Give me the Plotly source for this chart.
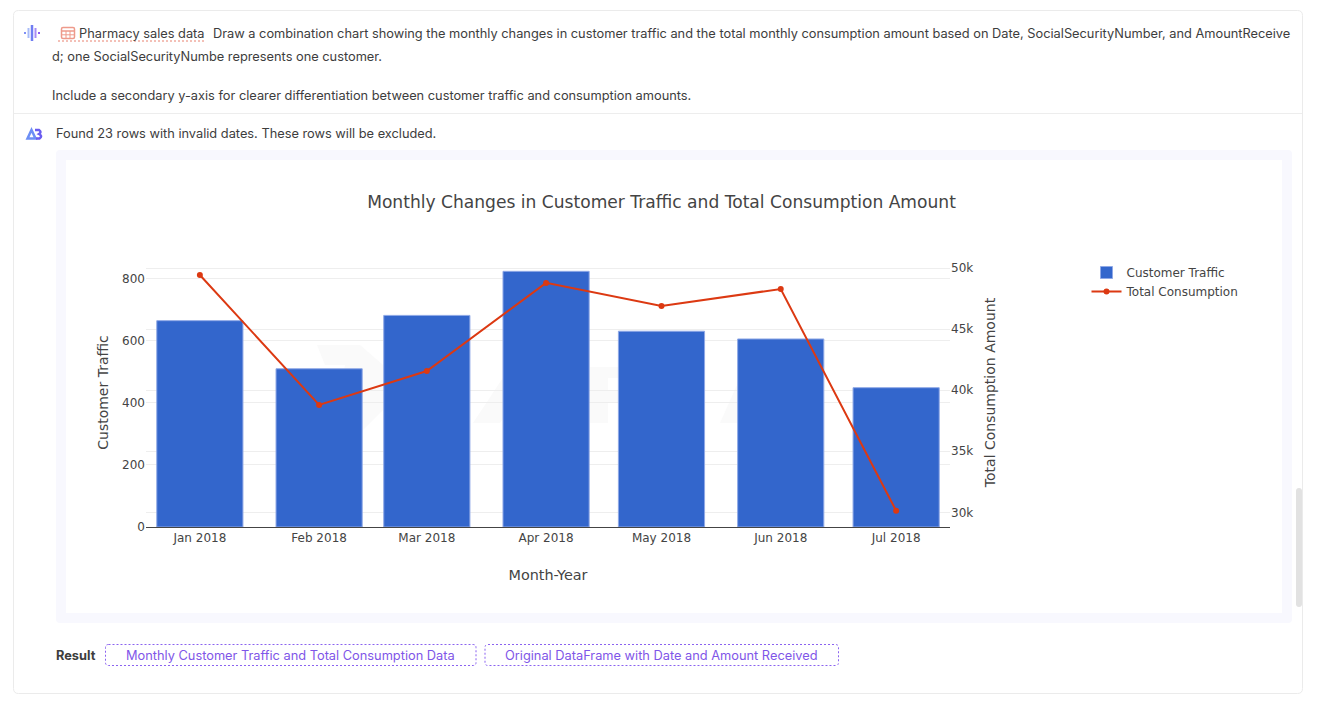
import plotly.graph_objects as go

W = 1320
H = 702

months = ["2018-01-01", "2018-02-01", "2018-03-01", "2018-04-01", "2018-05-01", "2018-06-01", "2018-07-01"]
month_labels = ["Jan 2018", "Feb 2018", "Mar 2018", "Apr 2018", "May 2018", "Jun 2018", "Jul 2018"]
customer_traffic = [665, 510, 682, 824, 631, 606, 449]
total_consumption = [49450, 38800, 41580, 48800, 46910, 48300, 30130]
left_ticks = [0, 200, 400, 600, 800]
right_ticks = [30000, 35000, 40000, 45000, 50000]


def px(x):
    return x / W


def py(y):
    return 1 - y / H


def path_shape(points, fill="rgba(0,0,0,0)", line="rgba(0,0,0,0)", width=1, close=True):
    d = "M " + " L ".join(f"{px(x)} {py(y)}" for x, y in points)
    if close:
        d += " Z"
    return dict(type="path", xref="paper", yref="paper", layer="below", path=d,
                fillcolor=fill, line=dict(color=line, width=width))


def box(x0, y0, x1, y1, fill="rgba(0,0,0,0)", line="rgba(0,0,0,0)", width=1, dash="solid", r=0):
    if r == 0:
        d = f"M {px(x0)} {py(y0)} L {px(x1)} {py(y0)} L {px(x1)} {py(y1)} L {px(x0)} {py(y1)} Z"
    else:
        d = (f"M {px(x0 + r)} {py(y0)} L {px(x1 - r)} {py(y0)} Q {px(x1)} {py(y0)} {px(x1)} {py(y0 + r)} "
             f"L {px(x1)} {py(y1 - r)} Q {px(x1)} {py(y1)} {px(x1 - r)} {py(y1)} "
             f"L {px(x0 + r)} {py(y1)} Q {px(x0)} {py(y1)} {px(x0)} {py(y1 - r)} "
             f"L {px(x0)} {py(y0 + r)} Q {px(x0)} {py(y0)} {px(x0 + r)} {py(y0)} Z")
    return dict(type="path", xref="paper", yref="paper", layer="below", path=d,
                fillcolor=fill, line=dict(color=line, width=width, dash=dash))


def seg(x0, y0, x1, y1, color, width=1, dash="solid"):
    return dict(type="line", xref="paper", yref="paper", layer="below",
                x0=px(x0), x1=px(x1), y0=py(y0), y1=py(y1),
                line=dict(color=color, width=width, dash=dash))


def label(text, x, y, size=12.8, color="#3d3d3d", anchor="left", family="Inter"):
    return dict(text=text, xref="paper", yref="paper", x=px(x), y=py(y), xanchor=anchor, yanchor="middle",
                showarrow=False, borderpad=0, borderwidth=0, font=dict(family=family, size=size, color=color))


fig = go.Figure()
fig.add_trace(go.Bar(x=months, y=customer_traffic, name="Customer Traffic",
                     marker=dict(color="#3366cc", line=dict(color="#8fa8e6", width=1))))
fig.add_trace(go.Scatter(x=months, y=total_consumption, name="Total Consumption", yaxis="y2",
                         mode="lines+markers", line=dict(color="#dc3912", width=2),
                         marker=dict(color="#dc3912", size=6)))

WM = "#fafafa"
# page furniture around the chart
shapes = [
    box(13.5, 10.5, 1302.5, 693.5, fill="#ffffff", line="#ebebeb", r=5),
    seg(14, 113.5, 1302, 113.5, "#ededed"),
    box(56, 150, 1292, 623, fill="#f8f8fe", r=4),
    box(66, 160, 1282, 613, fill="#ffffff"),
    box(1296, 488, 1302, 607, fill="#e2e2e2", r=3),
    # faint watermark behind the bars
    path_shape([(317, 345), (360, 345), (383, 365), (383, 410), (355, 438), (330, 438), (345, 365), (325, 365)], fill=WM),
    path_shape([(473, 423), (510, 367), (540, 367), (540, 423), (520, 423), (520, 395), (500, 423)], fill=WM),
    path_shape([(590, 367), (640, 367), (640, 378), (608, 378), (608, 390), (635, 390), (635, 402), (608, 402),
                (608, 423), (590, 423)], fill=WM),
    path_shape([(720, 423), (745, 367), (760, 367), (745, 423)], fill=WM),
    # table icon
    box(61.5, 27.5, 74.5, 38.5, line="#ee9a8b", width=1.5, r=1.5),
    seg(62, 31, 74, 31, "#ee9a8b", 1.5),
    seg(62, 34.8, 74, 34.8, "#ee9a8b", 1),
    seg(66, 31, 66, 38, "#ee9a8b", 1),
    seg(70, 31, 70, 38, "#ee9a8b", 1),
    seg(58, 41, 205, 41, "#e8806e", 1, "2px,2px"),
    # result buttons
    box(105.5, 644.5, 476, 665.5, line="#8b63f0", dash="2px,2px", r=3),
    box(485, 644.5, 838.5, 665.5, line="#8b63f0", dash="2px,2px", r=3),
    # waveform icon
    seg(25, 32, 25, 34, "#7f8ff4", 2),
    seg(28.5, 28, 28.5, 38, "#a9bcf8", 2),
    seg(32, 25, 32, 41, "#6f7df2", 2.5),
    seg(35.5, 28, 35.5, 38, "#a98cf5", 2),
    seg(39, 32, 39, 34, "#8a5cf0", 2),
    # AB logo
    path_shape([(27.5, 138.5), (31.5, 130), (35.5, 138.5)], line="#6c8ef5", width=2.5),
    dict(type="path", xref="paper", yref="paper", layer="below", fillcolor="rgba(0,0,0,0)",
         line=dict(color="#6a5cf0", width=2.5),
         path=(f"M {px(35)} {py(130)} L {px(39)} {py(130)} Q {px(42)} {py(132)} {px(39)} {py(134)} "
               f"Q {px(43)} {py(136)} {px(39.5)} {py(138.5)} L {px(36)} {py(138.5)}")),
]

annotations = [
    label("Pharmacy sales data", 79, 33.5),
    label("Draw a combination chart showing the monthly changes in customer traffic and the total monthly "
          "consumption amount based on Date, SocialSecurityNumber, and AmountReceive", 213, 33.5),
    label("d; one SocialSecurityNumbe represents one customer.", 52, 56.5),
    label("Include a secondary y-axis for clearer differentiation between customer traffic and consumption amounts.",
          52, 96),
    label("Found 23 rows with invalid dates. These rows will be excluded.", 56, 133.5),
    label("<b>Result</b>", 56, 655.5),
    label("Monthly Customer Traffic and Total Consumption Data", 290.5, 655.5, color="#7f56e8", anchor="center"),
    label("Original DataFrame with Date and Amount Received", 661.5, 655.5, color="#7f56e8", anchor="center"),
]

fig.update_layout(
    width=W,
    height=H,
    margin=dict(l=0, r=0, t=0, b=0),
    paper_bgcolor="#ffffff",
    plot_bgcolor="rgba(0,0,0,0)",
    font=dict(family="DejaVu Sans", size=12, color="#444444"),
    title=dict(text="Monthly Changes in Customer Traffic and Total Consumption Amount",
               x=px(661.5), xanchor="center", y=py(202), yanchor="middle",
               font=dict(size=17.1, color="#444444")),
    xaxis=dict(domain=[px(146), px(950)], type="date", tickvals=months, ticktext=month_labels,
               range=["2017-12-18", "2018-07-15"], showgrid=False, showline=True, linecolor="#444444",
               linewidth=1, ticks="", automargin=False,
               title=dict(text="Month-Year", font=dict(size=14.4), standoff=25)),
    yaxis=dict(domain=[py(527), py(258)], range=[0, 867], tickvals=left_ticks, gridcolor="#eeeeee",
               zeroline=False, ticks="", automargin=False,
               title=dict(text="Customer Traffic", font=dict(size=14), standoff=10)),
    yaxis2=dict(overlaying="y", side="right", range=[28795, 50840], tickvals=right_ticks,
                tickformat="~s", gridcolor="#eeeeee", zeroline=False, ticks="", automargin=False,
                title=dict(text="Total Consumption Amount", font=dict(size=14), standoff=12)),
    legend=dict(x=px(1086.5), y=py(258), xanchor="left", yanchor="top", bgcolor="rgba(0,0,0,0)",
                font=dict(size=12), traceorder="normal"),
    shapes=shapes,
    annotations=annotations,
)

fig.write_html("out.html", config=dict(displayModeBar=False), post_script="document.body.style.margin='0';")
